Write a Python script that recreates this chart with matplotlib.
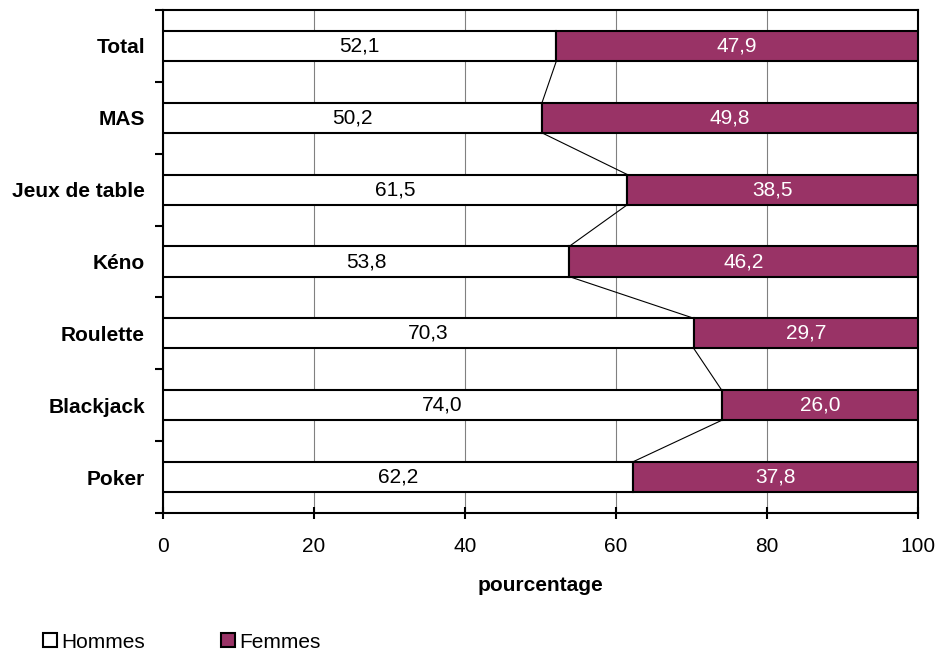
import numpy as np
import matplotlib
matplotlib.use('Agg')
import matplotlib.pyplot as plt
from matplotlib.patches import Patch

plt.rcParams['font.family'] = ['Liberation Sans', 'DejaVu Sans']

categories = ['Total', 'MAS', 'Jeux de table', 'Kéno', 'Roulette', 'Blackjack', 'Poker']
hommes = [52.1, 50.2, 61.5, 53.8, 70.3, 74.0, 62.2]
femmes = [47.9, 49.8, 38.5, 46.2, 29.7, 26.0, 37.8]
xticks = [0, 20, 40, 60, 80, 100]

purple = '#993366'
fs = 15
h = 0.42

fig = plt.figure(figsize=(9.39, 6.52), dpi=100)
ax = fig.add_axes([163/939, 139/652, 755/939, 503/652])

y = np.arange(len(categories))
ax.barh(y, hommes, height=h, color='white', edgecolor='black', linewidth=1.5, zorder=3)
ax.barh(y, femmes, left=hommes, height=h, color=purple, edgecolor='black', linewidth=1.5, zorder=3)

# series lines between bars
for i in range(len(categories) - 1):
    ax.plot([hommes[i], hommes[i+1]], [y[i] + h/2, y[i+1] - h/2], color='black', lw=0.8, zorder=2)

for i in range(len(categories)):
    ax.text(hommes[i]/2, y[i], f'{hommes[i]:.1f}'.replace('.', ','), ha='center', va='center',
            fontsize=fs, color='black', zorder=4)
    ax.text(hommes[i] + femmes[i]/2, y[i], f'{femmes[i]:.1f}'.replace('.', ','), ha='center', va='center',
            fontsize=fs, color='white', zorder=4)

ax.set_xlim(0, 100)
ax.set_ylim(len(categories) - 0.5, -0.5)

ax.set_xticks(xticks)
ax.set_xticklabels([str(t) for t in xticks], fontsize=fs)
ax.tick_params(axis='x', direction='inout', length=9, width=1.5, pad=13)

ax.set_yticks(np.arange(-0.5, len(categories), 1.0))
ax.set_yticklabels([])
ax.tick_params(axis='y', which='major', direction='out', length=6, width=1.5)
ax.set_yticks(y, minor=True)
ax.set_yticklabels(categories, minor=True, fontsize=fs, fontweight='bold')
ax.tick_params(axis='y', which='minor', length=0, pad=13)

ax.grid(axis='x', color='#808080', lw=0.8, zorder=0)
ax.set_axisbelow(True)
for s in ax.spines.values():
    s.set_linewidth(1.5)
    s.set_color('black')

ax.set_xlabel('pourcentage', fontsize=fs, fontweight='bold', labelpad=14)

handles = [Patch(facecolor='white', edgecolor='black', linewidth=1.5),
           Patch(facecolor=purple, edgecolor='black', linewidth=1.5)]
fig.legend(handles, ['Hommes', 'Femmes'], loc='center left', bbox_to_anchor=(43/939, 10/652),
           ncol=2, frameon=False, fontsize=fs, handlelength=0.67, handleheight=0.67,
           handletextpad=0.2, columnspacing=3.65, borderpad=0, borderaxespad=0)

fig.savefig('out.png', dpi=100)
